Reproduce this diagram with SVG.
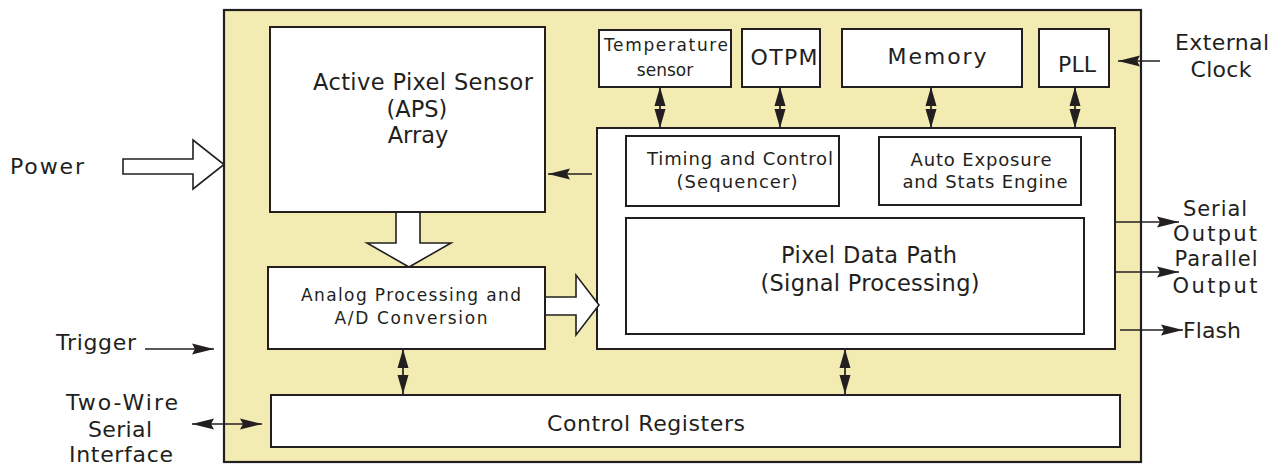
<svg xmlns="http://www.w3.org/2000/svg" width="1280" height="465" viewBox="0 0 1280 465">
<defs>
<style>
.box{fill:#fff;stroke:#231f20;stroke-width:2}
.chip{fill:#f2ecb2;stroke:#231f20;stroke-width:2.2}
.blk{fill:#fff;stroke:#231f20;stroke-width:1.6;stroke-linejoin:miter}
.ln{fill:none;stroke:#231f20;stroke-width:1.7}
.sa{marker-end:url(#ah)}
.da{marker-start:url(#ah);marker-end:url(#ah)}
.dv{marker-start:url(#av);marker-end:url(#av)}
text{font-family:"DejaVu Sans","Liberation Sans",sans-serif;fill:#231f20;text-anchor:middle}
.t21{font-size:22.5px}
.t20{font-size:22px}
.t17{font-size:18px}
.t16{font-size:17px}
.to{font-size:21px}
</style>
<marker id="ah" viewBox="0 0 22 12" refX="22" refY="6" markerWidth="22" markerHeight="12" markerUnits="userSpaceOnUse" orient="auto-start-reverse">
<path d="M0,0.5 L22,6 L0,11.5 L3,6 z" fill="#231f20"/>
</marker>
<marker id="av" viewBox="0 0 19 12" refX="19" refY="6" markerWidth="19" markerHeight="12" markerUnits="userSpaceOnUse" orient="auto-start-reverse">
<path d="M0,0.5 L19,6 L0,11.5 z" fill="#231f20"/>
</marker>
</defs>

<g id="chip"><rect class="chip" x="224" y="10" width="917" height="452"/></g>

<g id="aps"><rect class="box" x="270" y="27" width="275" height="185"/>
<text class="t21" x="423" y="90" textLength="220">Active Pixel Sensor</text>
<text class="t21" x="417" y="117">(APS)</text>
<text class="t21" x="418" y="143">Array</text></g>

<g id="temp"><rect class="box" x="599" y="30" width="132" height="57"/>
<text class="t16" x="666" y="51" textLength="124">Temperature</text>
<text class="t16" x="665" y="76">sensor</text></g>

<g id="otpm"><rect class="box" x="742" y="29" width="78" height="58"/>
<text class="t20" x="784" y="65" textLength="67">OTPM</text></g>

<g id="memory"><rect class="box" x="842" y="29" width="180" height="58"/>
<text class="t20" x="937" y="64" textLength="99">Memory</text></g>

<g id="pll"><rect class="box" x="1039" y="29" width="70" height="58"/>
<text class="t20" x="1077" y="72">PLL</text></g>

<g id="digital"><rect class="box" x="597" y="128" width="518" height="221"/></g>

<g id="timing"><rect class="box" x="626" y="136" width="213" height="70"/>
<text class="t17" x="740" y="165" textLength="186">Timing and Control</text>
<text class="t17" x="737" y="188" textLength="121">(Sequencer)</text></g>

<g id="ae"><rect class="box" x="879" y="137" width="202" height="68"/>
<text class="t17" x="981" y="166" textLength="141">Auto Exposure</text>
<text class="t17" x="985" y="188" textLength="165">and Stats Engine</text></g>

<g id="pdp"><rect class="box" x="626" y="218" width="458" height="116"/>
<text class="t21" x="869" y="263" textLength="176">Pixel Data Path</text>
<text class="t21" x="870" y="291" textLength="219">(Signal Processing)</text></g>

<g id="adc"><rect class="box" x="268" y="267" width="277" height="82"/>
<text class="t16" x="411" y="301" textLength="220">Analog Processing and</text>
<text class="t16" x="411" y="324" textLength="153">A/D Conversion</text></g>

<g id="regs"><rect class="box" x="271" y="395" width="849" height="52"/>
<text class="t20" x="646" y="431" textLength="198">Control Registers</text></g>

<g id="labels">
<text class="t20" x="47" y="174" textLength="74">Power</text>
<text class="t20" x="1222" y="50" textLength="94">External</text>
<text class="t20" x="1221" y="77" textLength="61">Clock</text>
<text class="to" x="1215" y="216" textLength="64">Serial</text>
<text class="to" x="1215" y="241" textLength="84">Output</text>
<text class="to" x="1216" y="266" textLength="83">Parallel</text>
<text class="to" x="1215" y="293" textLength="85">Output</text>
<text class="t20" x="1212" y="338" textLength="58">Flash</text>
<text class="t20" x="96" y="350" textLength="80">Trigger</text>
<text class="t20" x="122" y="410" textLength="112">Two-Wire</text>
<text class="t20" x="120" y="437" textLength="64">Serial</text>
<text class="t20" x="121" y="462" textLength="104">Interface</text>
</g>

<g id="connectors">
<polygon class="blk" points="123,159 193,159 193,140 224,164.5 193,189 193,174 123,174"/>
<path class="blk" d="M396,213 V243 H367 L409,267 L451,243 H420 V213"/>
<path class="blk" d="M546,297 H576 V275 L599,305 L576,335 V315 H546"/>
<line class="ln sa" x1="592" y1="174" x2="548" y2="174"/>
<line class="ln dv" x1="660" y1="87" x2="660" y2="128"/>
<line class="ln dv" x1="780" y1="87" x2="780" y2="128"/>
<line class="ln dv" x1="931" y1="87" x2="931" y2="128"/>
<line class="ln dv" x1="1075" y1="87" x2="1075" y2="128"/>
<line class="ln dv" x1="403" y1="349" x2="403" y2="394"/>
<line class="ln dv" x1="845" y1="349" x2="845" y2="394"/>
<line class="ln sa" x1="1160" y1="61" x2="1118" y2="61"/>
<line class="ln sa" x1="1115" y1="222" x2="1179" y2="222"/>
<line class="ln sa" x1="1115" y1="272" x2="1179" y2="272"/>
<line class="ln sa" x1="1120" y1="330" x2="1183" y2="330"/>
<line class="ln sa" x1="145" y1="349" x2="214" y2="349"/>
<line class="ln da" x1="192" y1="424" x2="262" y2="424"/>
</g>
</svg>
